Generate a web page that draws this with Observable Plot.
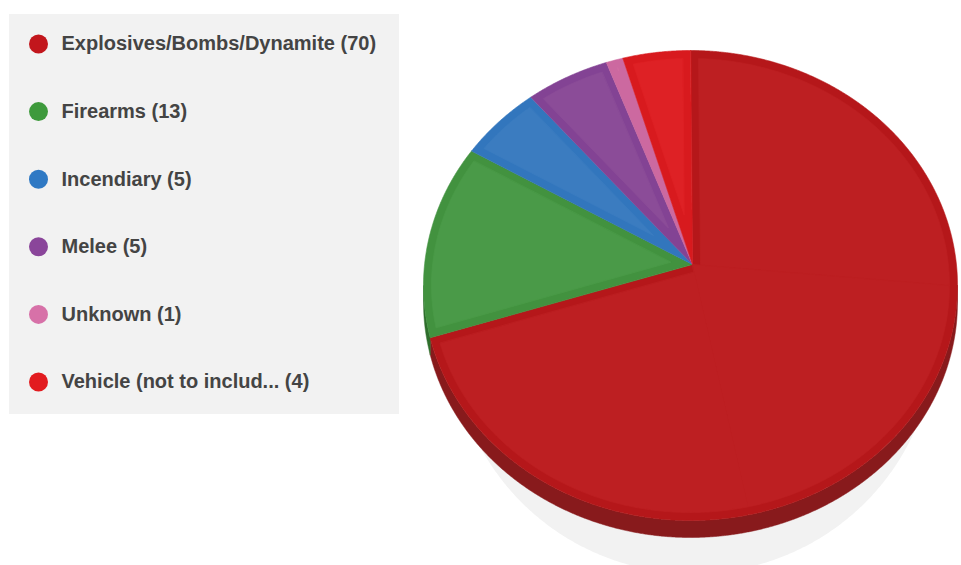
<!DOCTYPE html>
<html><head><meta charset="utf-8">
<script src="https://cdn.jsdelivr.net/npm/d3@7"></script>
<script src="https://cdn.jsdelivr.net/npm/@observablehq/plot@0.6"></script>
<style>
body{margin:0;background:#fff;font-family:"Liberation Sans",Arial,sans-serif;}
#chart svg{display:block;}
</style>
</head><body><div id="chart"></div>
<script>
// ---- data ----
const categories = ["Explosives/Bombs/Dynamite","Firearms","Incendiary","Melee","Unknown","Vehicle (not to includ..."];
const counts = [70, 13, 5, 5, 1, 4];
const legendColors = ["#c2161c","#3e9a3c","#2f79c4","#8a459a","#d771a8","#e21b1f"];
const faceColors   = ["#bd1f22","#4a9a48","#3b7cc0","#8b4c98","#d06ea2","#de2125"];
const rimColors    = ["#b5171a","#42923f","#3276bd","#834394","#cc69a0","#d81a1e"];
const sideColors   = ["#881a1c","#2e6e2c","#245a8e","#5f2f6a","#9a4f78","#a01416"];

// ---- layout ----
const W = 961, H = 565;
const cx = 690, cy = 285, rx = 267, ry = 235;   // top face ellipse
const ax = 692, ay = 264;                        // slice apex
const depth = 17;                                // side wall thickness
const rim = 8;                                   // darker rim width on each slice
const A = [ax, ay];
const ell = (t, dy = 0, c = [cx, cy], r = [rx, ry]) => [c[0] + r[0] * Math.sin(t), c[1] + dy - r[1] * Math.cos(t)];
const step = Math.PI / 720;
const sampleArc = (a, b, f) => { const n = Math.max(2, Math.ceil(Math.abs(b - a) / step)); return d3.range(n + 1).map(j => f(a + (b - a) * j / n)); };

const arcs = d3.pie().sort(null).value(d => d)(counts);

// full slice polygons
const slicePts = [];
arcs.forEach((p, i) => {
  slicePts.push({k: i, x: ax, y: ay});
  sampleArc(p.startAngle, p.endAngle, t => ell(t)).forEach(([x, y]) => slicePts.push({k: i, x, y}));
});

// inner (lighter) faces: slice inset by the rim width
function shoelace(poly) {
  let s = 0;
  for (let i = 0; i < poly.length; i++) { const a = poly[i], b = poly[(i + 1) % poly.length]; s += a[0] * b[1] - b[0] * a[1]; }
  return s / 2;
}
function clipHalf(poly, p, q, w, s) {
  const dx = q[0] - p[0], dy = q[1] - p[1], L = Math.hypot(dx, dy);
  const f = r => s * (dx * (r[1] - p[1]) - dy * (r[0] - p[0])) / L - w;
  const out = [], n = poly.length;
  for (let i = 0; i < n; i++) {
    const cur = poly[i], prev = poly[(i + n - 1) % n];
    const fc = f(cur), fp = f(prev);
    const cut = () => { const t = fp / (fp - fc); return [prev[0] + t * (cur[0] - prev[0]), prev[1] + t * (cur[1] - prev[1])]; };
    if (fc >= 0) { if (fp < 0) out.push(cut()); out.push(cur); }
    else if (fp >= 0) out.push(cut());
  }
  return out;
}
const innerPts = [];
let pieceId = 0;
arcs.forEach((p, i) => {
  const a0 = p.startAngle, a1 = p.endAngle;
  const pieces = (a1 - a0 > Math.PI)
    ? [[a0, a0 + Math.PI / 2, true, false], [a0 + Math.PI / 2, a1 - Math.PI / 2, false, false], [a1 - Math.PI / 2, a1, false, true]]
    : [[a0, a1, true, true]];
  const delta = 0.1;
  pieces.forEach(([a, b, realA, realB]) => {
    const ta = realA ? a - delta : a, tb = realB ? b + delta : b;
    let poly = [A, ...sampleArc(ta, tb, t => ell(t, 0, [cx, cy], [rx - rim, ry - rim]))];
    const s = Math.sign(shoelace([A, ...sampleArc(a, b, t => ell(t))]));
    if (realA) poly = clipHalf(poly, A, ell(a), rim, s);
    if (realB) poly = clipHalf(poly, ell(b), A, rim, s);
    if (poly.length > 2) { poly.forEach(([x, y]) => innerPts.push({k: i, piece: pieceId, x, y})); pieceId++; }
  });
});

// side walls (front half only)
const sidePts = [];
arcs.forEach((p, i) => {
  const a = Math.max(p.startAngle, Math.PI / 2), b = Math.min(p.endAngle, 3 * Math.PI / 2);
  if (b <= a) return;
  sampleArc(a, b, t => ell(t)).forEach(([x, y]) => sidePts.push({k: i, x, y}));
  sampleArc(b, a, t => ell(t, depth)).forEach(([x, y]) => sidePts.push({k: i, x, y}));
});

// drop shadow ellipse
const shadowPts = d3.range(0, 720).map(j => { const [x, y] = ell(j * Math.PI / 360, 0, [693, 333], [242, 240]); return {x, y}; });

const rowY = i => 43.5 + i * 67.6;

const plot = Plot.plot({
  width: W, height: H, margin: 0,
  x: {domain: [0, W], range: [0, W], axis: null},
  y: {domain: [0, H], range: [0, H], axis: null},
  color: {type: "identity"},
  style: {background: "#fff"},
  marks: [
    Plot.rect([0], {x1: () => 9, x2: () => 399, y1: () => 14, y2: () => 414, fill: "#f2f2f2"}),
    Plot.dot(categories, {x: () => 38, y: (d, i) => rowY(i), r: 9.5, fill: (d, i) => legendColors[i], stroke: null}),
    Plot.text(categories, {x: () => 61, y: (d, i) => rowY(i), text: (d, i) => `${d} (${counts[i]})`,
      textAnchor: "start", fontSize: 20, fontWeight: "bold", fill: "#444", fontFamily: "Liberation Sans, Arial, sans-serif"}),
    Plot.line(shadowPts, {x: "x", y: "y", fill: "#f2f2f2", stroke: null, curve: "linear-closed"}),
    Plot.line(sidePts, {x: "x", y: "y", z: "k", fill: d => sideColors[d.k], stroke: d => sideColors[d.k], strokeWidth: 0.5, curve: "linear-closed"}),
    Plot.line(slicePts, {x: "x", y: "y", z: "k", fill: d => rimColors[d.k], stroke: d => rimColors[d.k], strokeWidth: 0.6, curve: "linear-closed"}),
    Plot.line(innerPts, {x: "x", y: "y", z: "piece", fill: d => faceColors[d.k], stroke: d => faceColors[d.k], strokeWidth: 0.8, curve: "linear-closed"})
  ]
});

document.getElementById("chart").appendChild(plot);
</script>
</body></html>
